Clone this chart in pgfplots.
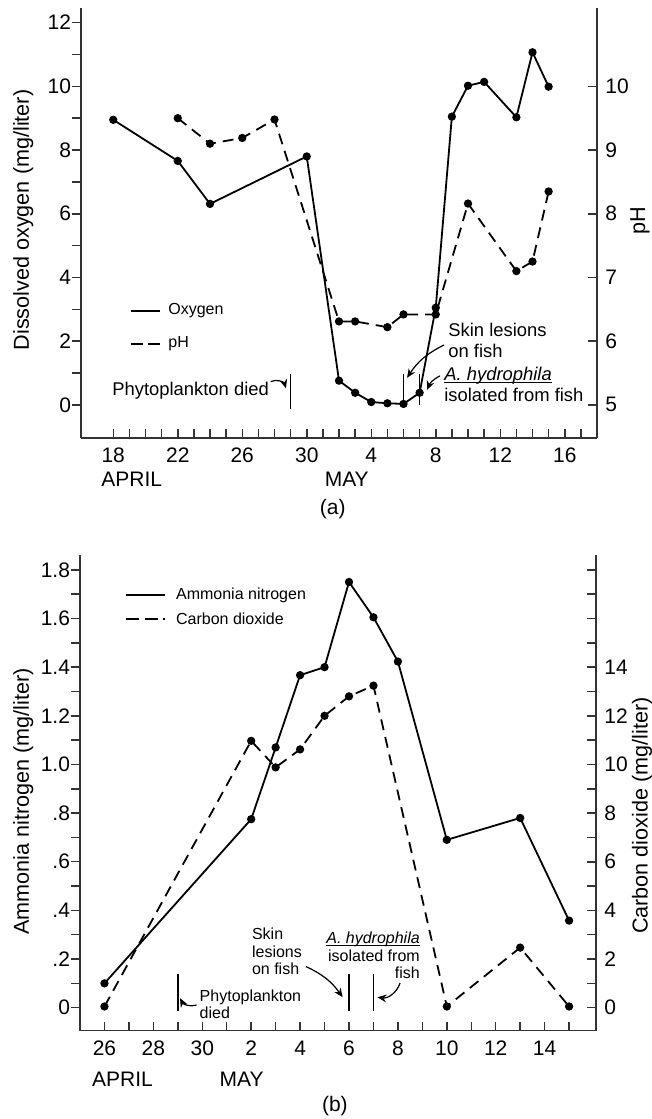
\documentclass[border=0pt]{standalone}
\usepackage{fontspec}
\setmainfont{Liberation Sans}
\usepackage{pgfplots}
\pgfplotsset{compat=1.18}
\usetikzlibrary{arrows.meta}

\newcommand\tickf{\fontsize{10.5}{12}\selectfont}
\newcommand\labf{\fontsize{10.8}{13}\selectfont}
\newcommand\legf{\fontsize{8}{9.6}\selectfont}
\newcommand\annA{\fontsize{9.2}{10.6}\selectfont}
\newcommand\annB{\fontsize{8}{8.7}\selectfont}
% underline drawn as a rule under the box
\newcommand\ul[1]{\setbox0=\hbox{#1}\leavevmode\rlap{\rule[-1.3pt]{\wd0}{0.45pt}}\box0}

\pgfplotsset{
  panel/.style={
    scale only axis, width=258pt, clip=false,
    /pgf/number format/assume math mode=true,
    tick label style={font=\tickf},
    label style={font=\labf},
    axis line style={black!80, line width=0.75pt},
    tick style={black!80, line width=0.75pt},
    major tick length=4.3pt, minor tick length=4.3pt,
  },
  lefty/.style={panel, axis x line=none, axis y line*=left, tick align=outside,
    yticklabel style={inner sep=0.5pt}},
  righty/.style={panel, axis x line*=bottom, axis y line*=right, tick align=inside,
    yticklabel style={inner sep=0pt, xshift=4pt},
    xticklabel style={yshift=-1.5pt}},
  ser/.style={black, line width=0.9pt, mark=*, mark size=1.6pt, mark options={solid}},
  serd/.style={ser, dash pattern=on 5.5pt off 3.5pt},
}
\tikzset{ann/.style={line width=0.6pt, -{Stealth[length=4.5pt, width=3.8pt]}},
  evt/.style={line width=0.8pt}}

\begin{document}
\begin{tikzpicture}
\path[use as bounding box] (0,0) rectangle (326pt,-559.5pt);

% ---------------- panel (a) ----------------
\begin{axis}[lefty, at={(40.5pt,-4pt)}, anchor=north west, height=215pt,
  xmin=16, xmax=48, ymin=-1.04, ymax=12.46,
  ytick={0,2,...,12}, minor ytick={1,3,...,11},
  ylabel={Dissolved oxygen (mg/liter)},
  ylabel style={at={(axis description cs:-0.112,0.507)}, anchor=center}]
\addplot[ser] coordinates {(18,8.95)(22,7.66)(24,6.31)(30,7.80)(32,0.76)(33,0.38)
  (34,0.09)(35,0.05)(36,0.03)(37,0.38)(38,3.05)(39,9.05)(40,10.02)(41,10.14)
  (43,9.03)(44,11.07)(45,9.99)};
% legend
\draw[black, line width=0.9pt] (axis description cs:0.0969,0.2953) -- (axis description cs:0.1531,0.2953);
\node[anchor=west, inner sep=0pt, font=\legf] at (axis description cs:0.1686,0.2953) {Oxygen};
\draw[black, line width=0.9pt, dash pattern=on 6pt off 2.5pt] (axis description cs:0.0969,0.2186) -- (axis description cs:0.1531,0.2186);
\node[anchor=west, inner sep=0pt, font=\legf] at (axis description cs:0.1686,0.2186) {pH};
% events
\draw[evt] (axis cs:29,0.97) -- (axis cs:29,-0.13);
\draw[evt] (axis cs:36,0.97) -- (axis cs:36,0);
\draw[evt] (axis cs:37,0.97) -- (axis cs:37,0);
\node[anchor=west, inner sep=0pt, font=\annA] at (axis cs:17.92,0.44) {Phytoplankton died};
\draw[ann] (axis cs:27.76,0.73) to[bend left=50] (axis cs:28.71,0.52);
\node[anchor=west, align=left, inner sep=0pt, font=\annA] at (axis cs:38.76,2.03) {Skin lesions\\on fish};
\draw[ann] (axis cs:38.51,1.88) to[bend right=15] (axis cs:36.22,0.85);
\node[anchor=west, align=left, inner sep=0pt, font=\annA] at (axis cs:38.51,0.63)
  {\ul{\itshape A. hydrophila}\\isolated from fish};
\draw[ann] (axis cs:38.26,0.91) to[bend right=20] (axis cs:37.46,0.47);
\end{axis}

\begin{axis}[righty, at={(40.5pt,-4pt)}, anchor=north west, height=215pt,
  xmin=16, xmax=48, ymin=4.48, ymax=11.23,
  ytick={5,...,10},
  xtick={18,22,26,30,34,38,42,46}, xticklabels={18,22,26,30,4,8,12,16},
  minor xtick={18,...,47},
  ylabel={pH},
  ylabel style={at={(axis description cs:1.083,0.505)}, anchor=center}]
\addplot[serd] coordinates {(22,9.50)(24,9.10)(26,9.19)(28,9.48)(32,6.31)(33,6.31)
  (35,6.22)(36,6.42)(38,6.42)(40,8.16)(43,7.10)(44,7.25)(45,8.35)};
\node[font=\tickf] at (axis description cs:0.0983,-0.0953) {APRIL};
\node[font=\tickf] at (axis description cs:0.515,-0.0953) {MAY};
\node[font=\tickf] at (axis description cs:0.488,-0.165) {(a)};
\end{axis}

% ---------------- panel (b) ----------------
\begin{axis}[lefty, at={(40pt,-277.5pt)}, anchor=north west, height=237.85pt,
  xmin=25, xmax=46.1, ymin=-0.0946, ymax=1.861,
  ytick={0,0.2,0.4,0.6,0.8,1.0,1.2,1.4,1.6,1.8},
  yticklabels={0,.2,.4,.6,.8,1.0,1.2,1.4,1.6,1.8},
  minor ytick={0.1,0.3,0.5,0.7,0.9,1.1,1.3,1.5,1.7},
  ylabel={Ammonia nitrogen (mg/liter)},
  ylabel style={at={(axis description cs:-0.110,0.482)}, anchor=center}]
\addplot[ser] coordinates {(26,0.10)(32,0.775)(33,1.07)(34,1.367)(35,1.40)(36,1.75)
  (37,1.605)(38,1.423)(40,0.69)(43,0.78)(45,0.358)};
% legend
\draw[black, line width=0.9pt] (axis description cs:0.0891,0.9159) -- (axis description cs:0.1647,0.9159);
\node[anchor=west, inner sep=0pt, font=\legf] at (axis description cs:0.1855,0.9159) {Ammonia nitrogen};
\draw[black, line width=0.9pt, dash pattern=on 6.7pt off 2.6pt] (axis description cs:0.0891,0.8655) -- (axis description cs:0.1647,0.8655);
\node[anchor=west, inner sep=0pt, font=\legf] at (axis description cs:0.1855,0.8655) {Carbon dioxide};
% events
\draw[evt] (axis cs:29,0.139) -- (axis cs:29,-0.012);
\draw[evt] (axis cs:36,0.139) -- (axis cs:36,-0.012);
\draw[evt] (axis cs:37,0.139) -- (axis cs:37,-0.012);
\node[anchor=west, align=left, inner sep=0pt, font=\annB] at (axis cs:29.88,0.013) {Phytoplankton\\died};
\draw[ann] (axis cs:29.77,0.011) to[bend left=40] (axis cs:29.09,0.039);
\node[anchor=west, align=left, inner sep=0pt, font=\annB] at (axis cs:32.02,0.231) {Skin\\lesions\\on fish};
\draw[ann] (axis cs:34.24,0.169) to[bend left=15] (axis cs:35.74,0.043);
\node[anchor=east, align=right, inner sep=0pt, font=\annB] at (axis cs:38.91,0.215)
  {\ul{\itshape A. hydrophila}\\isolated from\\fish};
\draw[ann] (axis cs:38.09,0.102) to[bend left=40] (axis cs:37.16,0.043);
\end{axis}

\begin{axis}[righty, at={(40pt,-277.5pt)}, anchor=north west, height=237.85pt,
  xmin=25, xmax=46.1, ymin=-0.946, ymax=18.61,
  ytick={0,2,...,14}, minor ytick={1,3,5,7,9,11,13,15,16,17,18},
  xtick={26,28,30,32,34,36,38,40,42,44}, xticklabels={26,28,30,2,4,6,8,10,12,14},
  minor xtick={26,...,45},
  ylabel={Carbon dioxide (mg/liter)},
  ylabel style={at={(axis description cs:1.089,0.452)}, anchor=center}]
\addplot[serd] coordinates {(26,0.05)(32,10.97)(33,9.88)(34,10.62)(35,12.0)(36,12.8)
  (37,13.24)(40,0.05)(43,2.47)(45,0.05)};
\node[font=\tickf] at (axis description cs:0.0824,-0.1015) {APRIL};
\node[font=\tickf] at (axis description cs:0.3134,-0.1015) {MAY};
\node[font=\tickf] at (axis description cs:0.494,-0.158) {(b)};
\end{axis}
\end{tikzpicture}
\end{document}
